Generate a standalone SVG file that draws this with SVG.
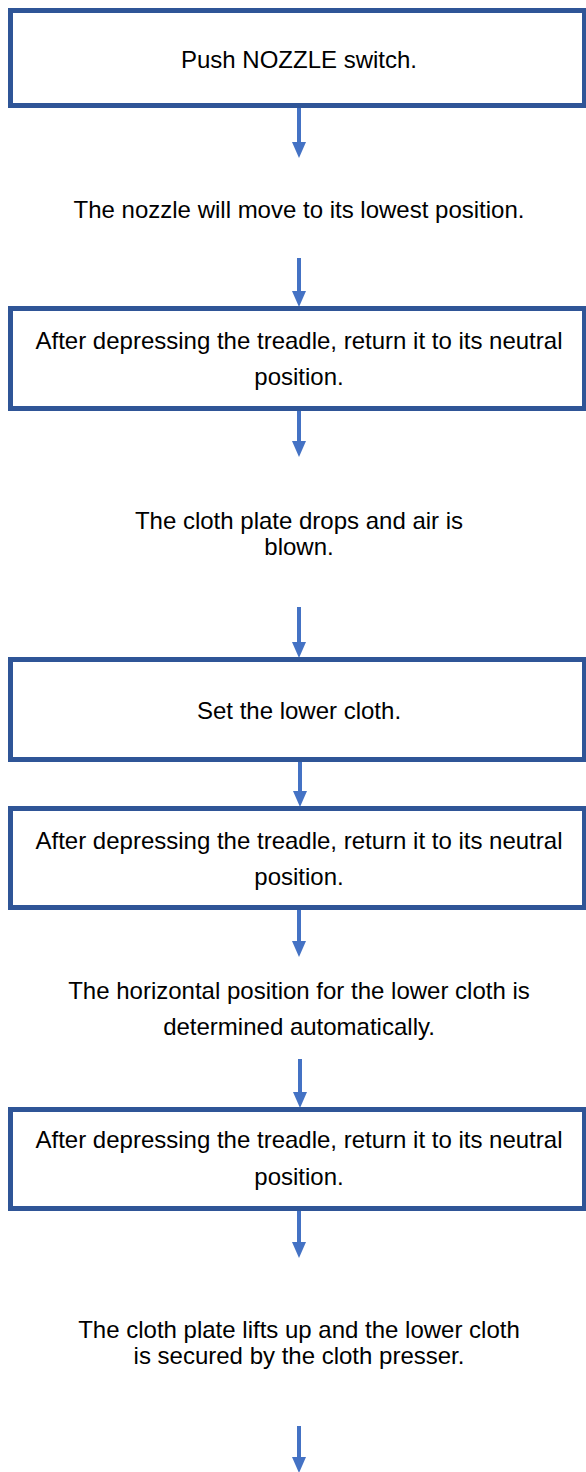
<svg xmlns="http://www.w3.org/2000/svg" width="586" height="1472" viewBox="0 0 586 1472">
<defs>
<style>
.box{fill:#ffffff;stroke:#2F5597;stroke-width:5}
.t{font-family:"Liberation Sans",Arial,sans-serif;font-size:24px;fill:#000000;text-anchor:middle}
.arr{stroke:#4472C4;stroke-width:4;fill:none}
.head{fill:#4472C4}
</style>
</defs>
<rect width="586" height="1472" fill="#ffffff"/>
<g id="connectors">
<line class="arr" x1="299" y1="108" x2="299" y2="142"/><path class="head" d="M292,142 L306,142 L299,158 Z"/>
<line class="arr" x1="299" y1="258" x2="299" y2="291"/><path class="head" d="M292,291 L306,291 L299,307 Z"/>
<line class="arr" x1="299" y1="411" x2="299" y2="441"/><path class="head" d="M292,441 L306,441 L299,457 Z"/>
<line class="arr" x1="299" y1="607" x2="299" y2="642"/><path class="head" d="M292,642 L306,642 L299,658 Z"/>
<line class="arr" x1="300" y1="762" x2="300" y2="791"/><path class="head" d="M293,791 L307,791 L300,807 Z"/>
<line class="arr" x1="299" y1="910" x2="299" y2="941"/><path class="head" d="M292,941 L306,941 L299,957 Z"/>
<line class="arr" x1="300" y1="1059" x2="300" y2="1092"/><path class="head" d="M293,1092 L307,1092 L300,1108 Z"/>
<line class="arr" x1="299" y1="1211" x2="299" y2="1242"/><path class="head" d="M292,1242 L306,1242 L299,1258 Z"/>
<line class="arr" x1="299" y1="1426" x2="299" y2="1457"/><path class="head" d="M292,1457 L306,1457 L299,1473 Z"/>
</g>
<g id="node1">
<rect class="box" x="10.5" y="10.5" width="574" height="95"/>
<text class="t" x="299" y="68">Push NOZZLE switch.</text>
</g>
<g id="node2">
<text class="t" x="299" y="218">The nozzle will move to its lowest position.</text>
</g>
<g id="node3">
<rect class="box" x="10.5" y="308.5" width="574" height="100"/>
<text class="t" x="299" y="349">After depressing the treadle, return it to its neutral</text>
<text class="t" x="299" y="385">position.</text>
</g>
<g id="node4">
<text class="t" x="299" y="529">The cloth plate drops and air is</text>
<text class="t" x="299" y="555">blown.</text>
</g>
<g id="node5">
<rect class="box" x="10.5" y="659.5" width="574" height="100"/>
<text class="t" x="299" y="719">Set the lower cloth.</text>
</g>
<g id="node6">
<rect class="box" x="10.5" y="808.5" width="574" height="99"/>
<text class="t" x="299" y="849">After depressing the treadle, return it to its neutral</text>
<text class="t" x="299" y="885">position.</text>
</g>
<g id="node7">
<text class="t" x="299" y="999">The horizontal position for the lower cloth is</text>
<text class="t" x="299" y="1035">determined automatically.</text>
</g>
<g id="node8">
<rect class="box" x="10.5" y="1109.5" width="574" height="99"/>
<text class="t" x="299" y="1148">After depressing the treadle, return it to its neutral</text>
<text class="t" x="299" y="1185">position.</text>
</g>
<g id="node9">
<text class="t" x="299" y="1338">The cloth plate lifts up and the lower cloth</text>
<text class="t" x="299" y="1364">is secured by the cloth presser.</text>
</g>
</svg>
